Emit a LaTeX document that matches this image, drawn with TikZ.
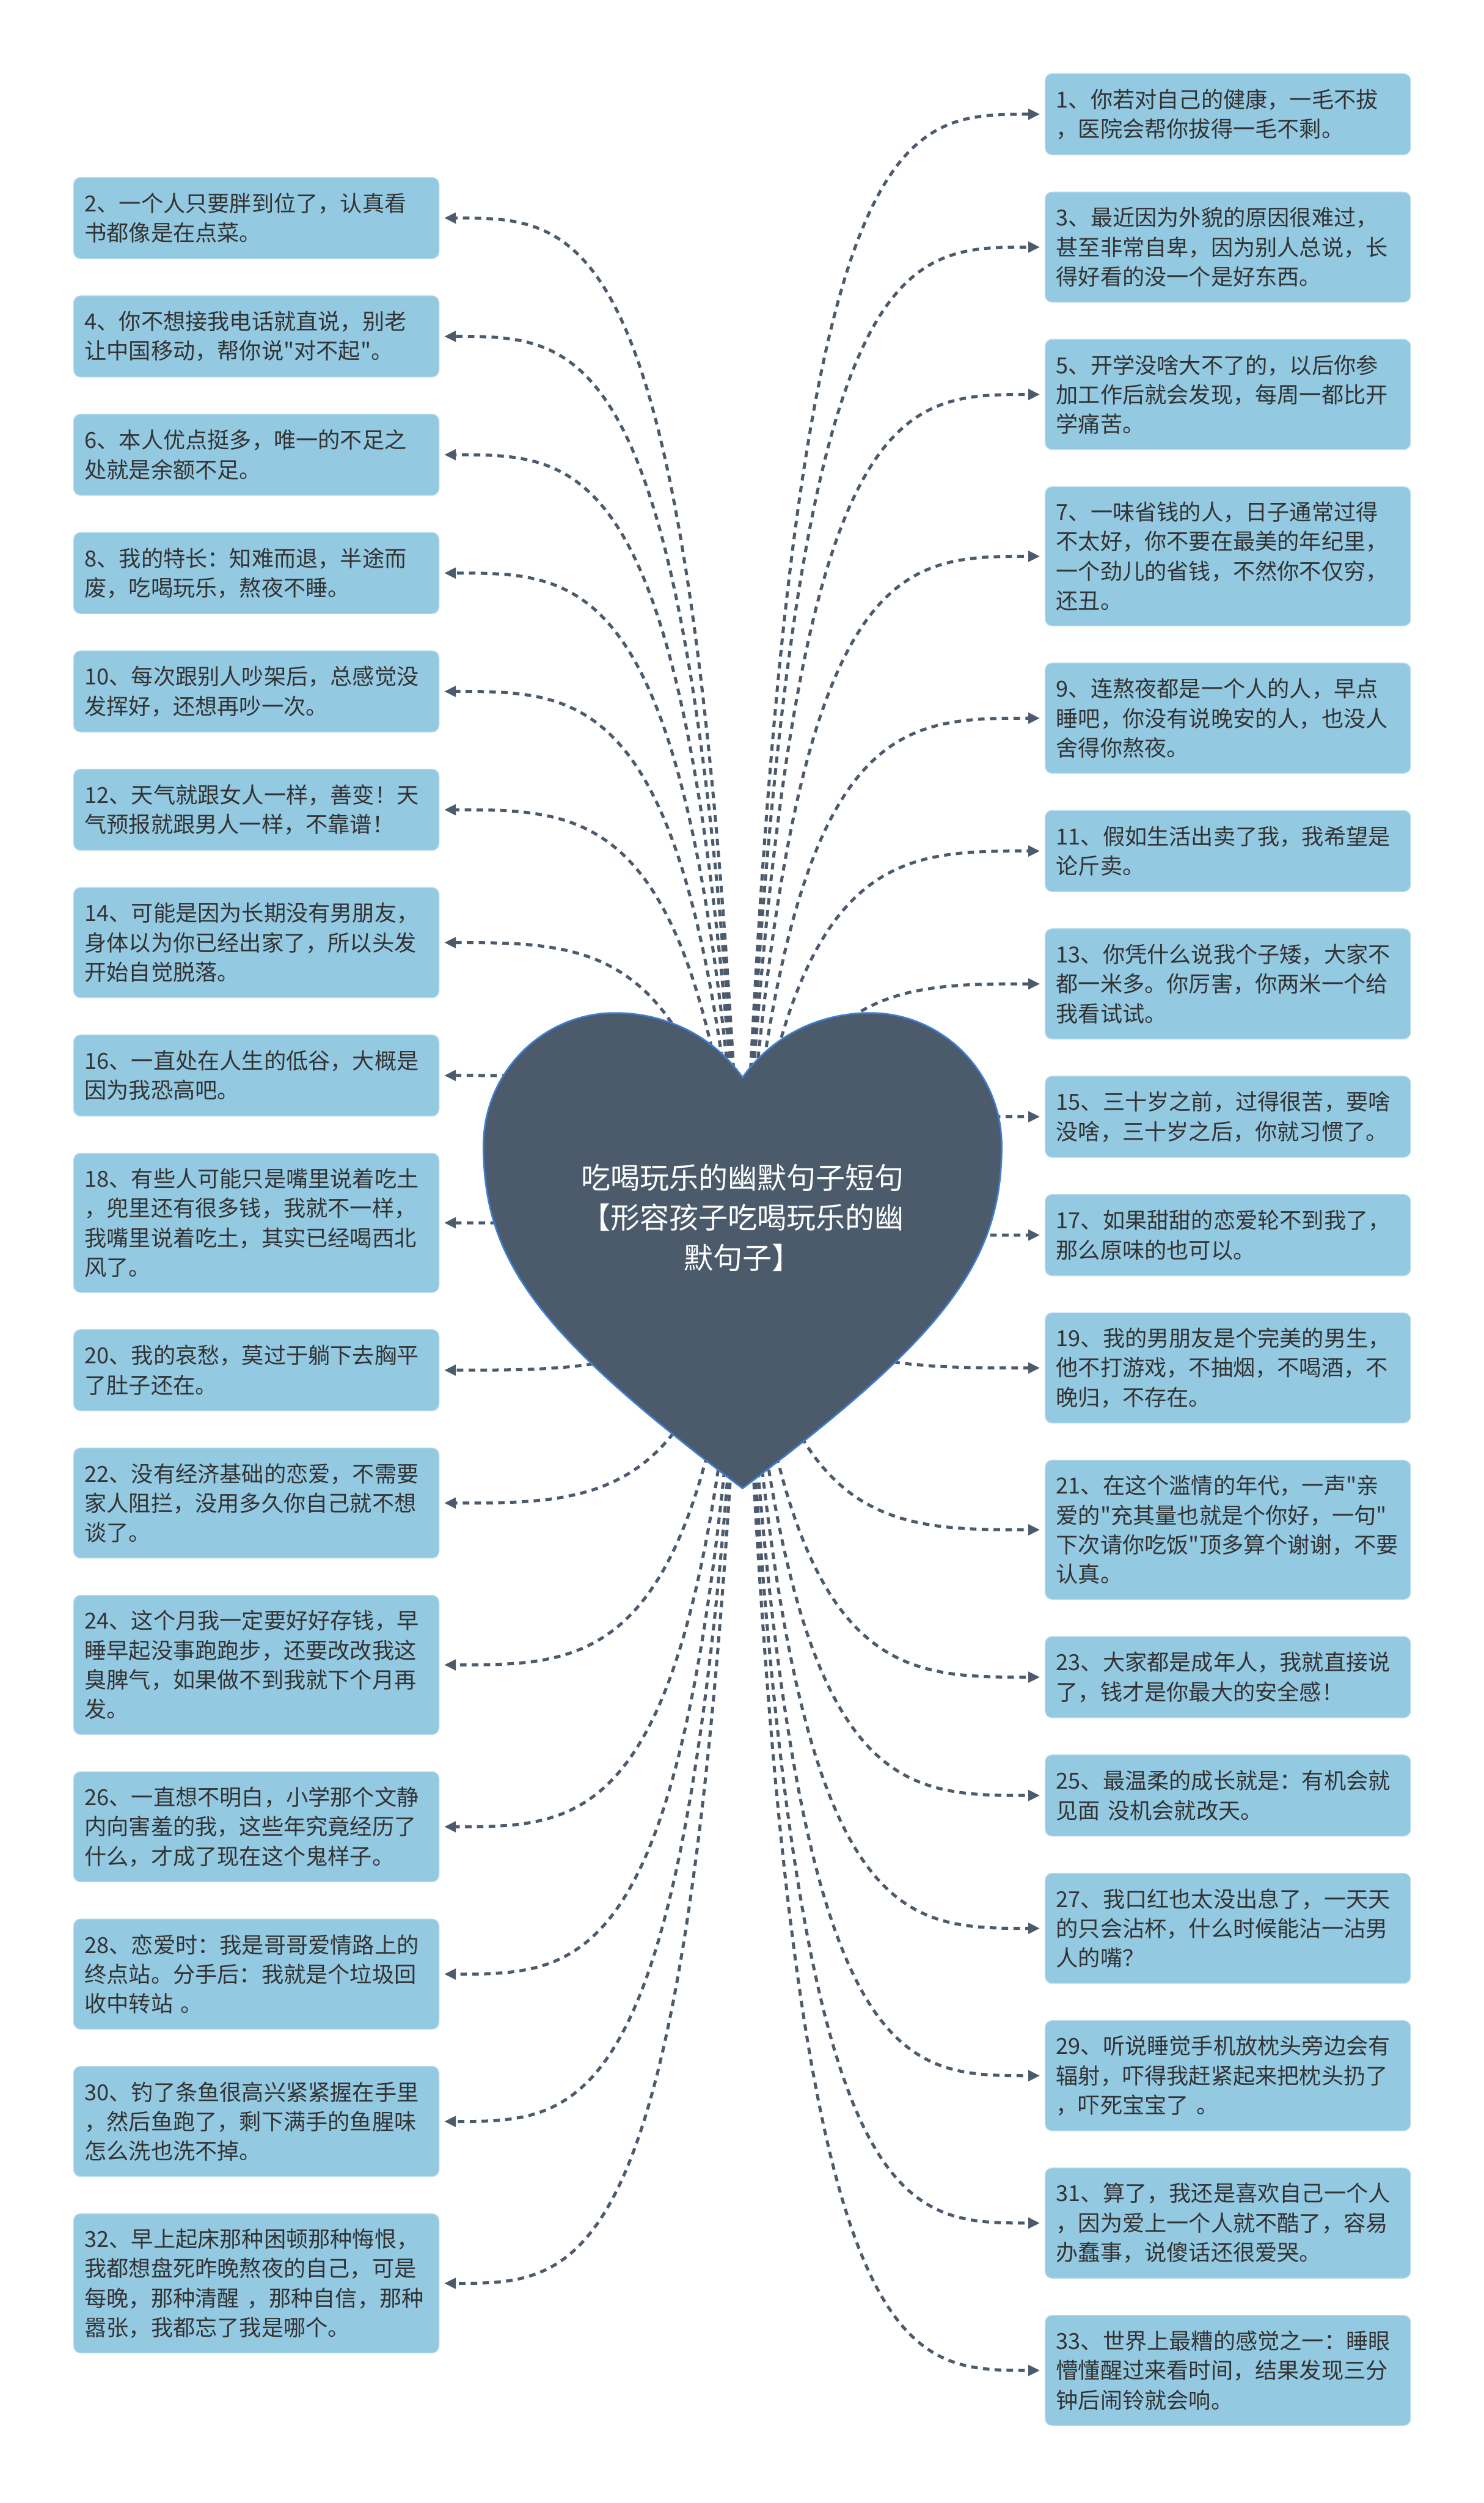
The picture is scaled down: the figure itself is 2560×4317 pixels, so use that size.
\documentclass[tikz,border=0pt]{standalone}
\usepackage{fontspec}
\setmainfont{Noto Sans CJK SC}[Ligatures=TeXOff]
\usepackage{tikz}
\usetikzlibrary{arrows.meta, positioning, calc}
\definecolor{boxblue}{HTML}{94C9E2}
\definecolor{boxline}{HTML}{B9DCEC}
\definecolor{slate}{HTML}{4B5B6B}
\definecolor{heartline}{HTML}{3F7FD2}
\definecolor{inkgray}{HTML}{333333}

\begin{document}
\begin{tikzpicture}[
    x=0.01cm, y=-0.01cm,
    node distance=0.64cm,
    quote/.style={rectangle, rounded corners=0.12cm, fill=boxblue, draw=boxline,
                  line width=0.4pt, outer sep=0pt, text width=5.92cm, inner xsep=0.19cm,
                  inner ysep=0pt, align=left, text=inkgray,
                  font=\fontsize{10.85pt}{14.5pt}\selectfont},
    nlines/.style={minimum height=#1*0.5cm+0.4cm},
    link/.style={draw=slate, line width=1.5pt, dash pattern=on 3.2pt off 2.6pt,
                 -{Triangle[length=0.2cm, width=0.18cm]}, shorten >=0.09cm},
    heart/.style={fill=slate, draw=heartline, line width=0.8pt},
    heading/.style={text=white, align=center, font=\fontsize{14.4pt}{19.6pt}\selectfont}
]
\useasboundingbox (0,0) rectangle (2560,4317);

% left column
\node[quote, nlines=2, anchor=north west] (b2) at (127,306) {2、一个人只要胖到位了，认真看\\书都像是在点菜。};
\node[quote, nlines=2, below=of b2] (b4) {4、你不想接我电话就直说，别老\\让中国移动，帮你说"对不起"。};
\node[quote, nlines=2, below=of b4] (b6) {6、本人优点挺多，唯一的不足之\\处就是余额不足。};
\node[quote, nlines=2, below=of b6] (b8) {8、我的特长：知难而退，半途而\\废，吃喝玩乐，熬夜不睡。};
\node[quote, nlines=2, below=of b8] (b10) {10、每次跟别人吵架后，总感觉没\\发挥好，还想再吵一次。};
\node[quote, nlines=2, below=of b10] (b12) {12、天气就跟女人一样，善变！天\\气预报就跟男人一样，不靠谱！};
\node[quote, nlines=3, below=of b12] (b14) {14、可能是因为长期没有男朋友，\\身体以为你已经出家了，所以头发\\开始自觉脱落。};
\node[quote, nlines=2, below=of b14] (b16) {16、一直处在人生的低谷，大概是\\因为我恐高吧。};
\node[quote, nlines=4, below=of b16] (b18) {18、有些人可能只是嘴里说着吃土\\，兜里还有很多钱，我就不一样，\\我嘴里说着吃土，其实已经喝西北\\风了。};
\node[quote, nlines=2, below=of b18] (b20) {20、我的哀愁，莫过于躺下去胸平\\了肚子还在。};
\node[quote, nlines=3, below=of b20] (b22) {22、没有经济基础的恋爱，不需要\\家人阻拦，没用多久你自己就不想\\谈了。};
\node[quote, nlines=4, below=of b22] (b24) {24、这个月我一定要好好存钱，早\\睡早起没事跑跑步，还要改改我这\\臭脾气，如果做不到我就下个月再\\发。};
\node[quote, nlines=3, below=of b24] (b26) {26、一直想不明白，小学那个文静\\内向害羞的我，这些年究竟经历了\\什么，才成了现在这个鬼样子。};
\node[quote, nlines=3, below=of b26] (b28) {28、恋爱时：我是哥哥爱情路上的\\终点站。分手后：我就是个垃圾回\\收中转站 。};
\node[quote, nlines=3, below=of b28] (b30) {30、钓了条鱼很高兴紧紧握在手里\\，然后鱼跑了，剩下满手的鱼腥味\\怎么洗也洗不掉。};
\node[quote, nlines=4, below=of b30] (b32) {32、早上起床那种困顿那种悔恨，\\我都想盘死昨晚熬夜的自己，可是\\每晚，那种清醒 ，那种自信，那种\\嚣张，我都忘了我是哪个。};

% right column
\node[quote, nlines=2, anchor=north west] (b1) at (1803,127) {1、你若对自己的健康，一毛不拔\\，医院会帮你拔得一毛不剩。};
\node[quote, nlines=3, below=of b1] (b3) {3、最近因为外貌的原因很难过，\\甚至非常自卑，因为别人总说，长\\得好看的没一个是好东西。};
\node[quote, nlines=3, below=of b3] (b5) {5、开学没啥大不了的，以后你参\\加工作后就会发现，每周一都比开\\学痛苦。};
\node[quote, nlines=4, below=of b5] (b7) {7、一味省钱的人，日子通常过得\\不太好，你不要在最美的年纪里，\\一个劲儿的省钱，不然你不仅穷，\\还丑。};
\node[quote, nlines=3, below=of b7] (b9) {9、连熬夜都是一个人的人，早点\\睡吧，你没有说晚安的人，也没人\\舍得你熬夜。};
\node[quote, nlines=2, below=of b9] (b11) {11、假如生活出卖了我，我希望是\\论斤卖。};
\node[quote, nlines=3, below=of b11] (b13) {13、你凭什么说我个子矮，大家不\\都一米多。你厉害，你两米一个给\\我看试试。};
\node[quote, nlines=2, below=of b13] (b15) {15、三十岁之前，过得很苦，要啥\\没啥，三十岁之后，你就习惯了。};
\node[quote, nlines=2, below=of b15] (b17) {17、如果甜甜的恋爱轮不到我了，\\那么原味的也可以。};
\node[quote, nlines=3, below=of b17] (b19) {19、我的男朋友是个完美的男生，\\他不打游戏，不抽烟，不喝酒，不\\晚归，不存在。};
\node[quote, nlines=4, below=of b19] (b21) {21、在这个滥情的年代，一声"亲\\爱的"充其量也就是个你好，一句"\\下次请你吃饭"顶多算个谢谢，不要\\认真。};
\node[quote, nlines=2, below=of b21] (b23) {23、大家都是成年人，我就直接说\\了，钱才是你最大的安全感！};
\node[quote, nlines=2, below=of b23] (b25) {25、最温柔的成长就是：有机会就\\见面 没机会就改天。};
\node[quote, nlines=3, below=of b25] (b27) {27、我口红也太没出息了，一天天\\的只会沾杯，什么时候能沾一沾男\\人的嘴？};
\node[quote, nlines=3, below=of b27] (b29) {29、听说睡觉手机放枕头旁边会有\\辐射，吓得我赶紧起来把枕头扔了\\，吓死宝宝了 。};
\node[quote, nlines=3, below=of b29] (b31) {31、算了，我还是喜欢自己一个人\\，因为爱上一个人就不酷了，容易\\办蠢事，说傻话还很爱哭。};
\node[quote, nlines=3, below=of b31] (b33) {33、世界上最糟的感觉之一：睡眼\\懵懂醒过来看时间，结果发现三分\\钟后闹铃就会响。};

% connectors, drawn under the heart
\coordinate (hub) at (1281,2150);
\foreach \k in {2,4,...,32}
  \draw[link] (hub) .. controls ($(hub |- b\k.east)!0.15!(b\k.east)$) and ($(hub |- b\k.east)!0.5!(b\k.east)$) .. (b\k.east);
\foreach \k in {1,3,...,33}
  \draw[link] (hub) .. controls ($(hub |- b\k.west)!0.15!(b\k.west)$) and ($(hub |- b\k.west)!0.5!(b\k.west)$) .. (b\k.west);

% heart
\path[heart] (1281,1858)
  .. controls (1225,1780) and (1140,1747) .. (1061,1747)
  .. controls (936,1747) and (834,1850) .. (834,1976)
  .. controls (834,2176) and (931,2304) .. (1281,2567)
  .. controls (1631,2304) and (1728,2176) .. (1728,1976)
  .. controls (1728,1850) and (1626,1747) .. (1501,1747)
  .. controls (1422,1747) and (1337,1780) .. (1281,1858) -- cycle;
\node[heading] (title) at (1281,2100) {吃喝玩乐的幽默句子短句\\【形容孩子吃喝玩乐的幽\\默句子】};

\end{tikzpicture}
\end{document}
